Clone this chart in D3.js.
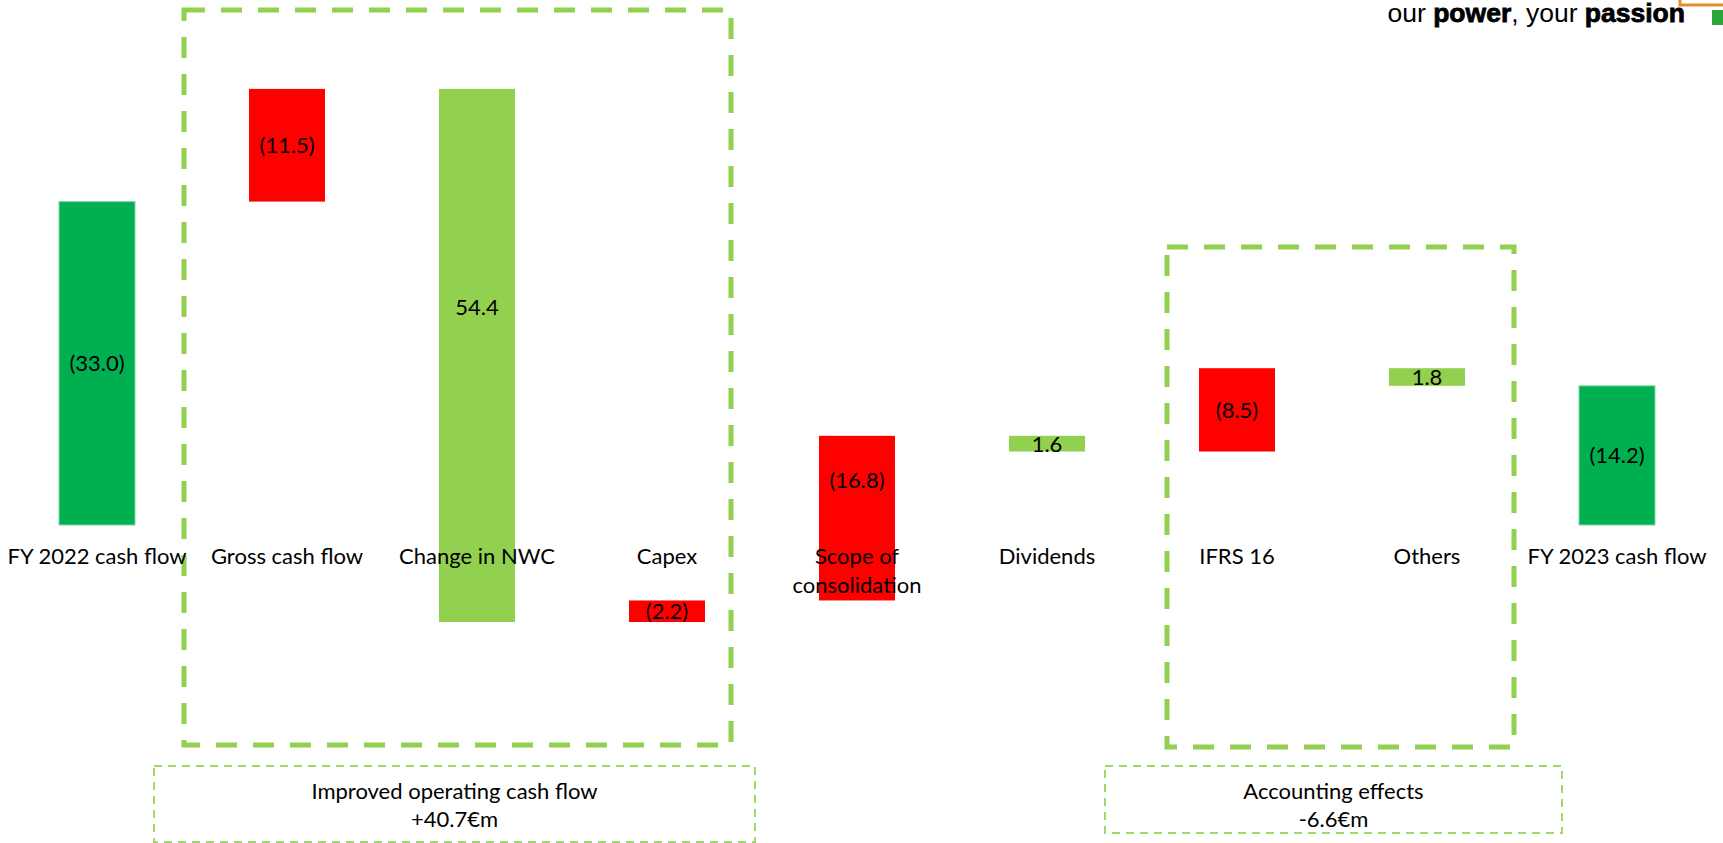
<!DOCTYPE html>
<html><head><meta charset="utf-8">
<script src="https://cdn.jsdelivr.net/npm/d3@7/dist/d3.min.js"></script>
<style>body{margin:0;background:#fff;overflow:hidden} svg{display:block;}</style>
</head><body><svg id="c" width="1723" height="843"></svg>
<script>
// ---- data ----
const categories = ["FY 2022 cash flow","Gross cash flow","Change in NWC","Capex","Scope of consolidation","Dividends","IFRS 16","Others","FY 2023 cash flow"];
const values = [-33.0,-11.5,54.4,-2.2,-16.8,1.6,-8.5,1.8,-14.2];
const kinds = ["total","delta","delta","delta","delta","delta","delta","delta","total"];
const valueLabels = ["(33.0)","(11.5)","54.4","(2.2)","(16.8)","1.6","(8.5)","1.8","(14.2)"];
const groupNames = ["Improved operating cash flow","Accounting effects"];
const groupTotals = ["+40.7€m","-6.6€m"];
const groupFrom = [1,6];
const groupTo = [3,7];

// ---- layout ----
const W = 1723, H = 843;
const FONT = "Lato, 'Open Sans', sans-serif";
const FS = 22;
const C_TOTAL = "#00B050", C_NEG = "#FF0000", C_POS = "#92D050";

const svg = d3.select("#c");
const x = d3.scaleBand().domain(categories).range([2, 1712]).paddingInner(0.6).paddingOuter(0.3);
const y = d3.scaleLinear().domain([0, 50]).range([525, 35]);

// waterfall levels (net cash outflow stacked upward)
let level = 0;
const bars = categories.map((c, i) => {
  let a, b;
  if (kinds[i] === "total") { a = 0; b = -values[i]; level = b; }
  else { a = level; b = level - values[i]; level = b; }
  const lo = Math.min(a, b), hi = Math.max(a, b);
  const color = kinds[i] === "total" ? C_TOTAL : (values[i] < 0 ? C_NEG : C_POS);
  const lblMid = hi > 0 ? (Math.max(lo, 0) + hi) / 2 : (lo + hi) / 2;
  return {c, i, lo, hi, color, lblMid, label: valueLabels[i]};
});

// group dashed boxes (thick)
const gBoxes = [
  {x0: x(categories[groupFrom[0]]) - 65, x1: x(categories[groupTo[0]]) + x.bandwidth() + 26, y0: 10, y1: 745},
  {x0: x(categories[groupFrom[1]]) - 32, x1: x(categories[groupTo[1]]) + x.bandwidth() + 49, y0: 247, y1: 747}
];
svg.selectAll("rect.gbox").data(gBoxes).join("rect").attr("class","gbox")
  .attr("x", d => d.x0).attr("y", d => d.y0)
  .attr("width", d => d.x1 - d.x0).attr("height", d => d.y1 - d.y0)
  .attr("fill","none").attr("stroke", C_POS).attr("stroke-width", 5)
  .attr("stroke-dasharray","21 16");

// bars
svg.selectAll("rect.bar").data(bars).join("rect").attr("class","bar")
  .attr("x", d => x(d.c)).attr("width", x.bandwidth())
  .attr("y", d => y(d.hi)).attr("height", d => y(d.lo) - y(d.hi))
  .attr("fill", d => d.color)
  .attr("stroke", d => kinds[d.i] === "total" ? "#7fd8a4" : "none").attr("stroke-width", 1);

// category labels (wrapped)
const catG = svg.append("g");
bars.forEach(d => {
  const t = catG.append("text").attr("x", x(d.c) + x.bandwidth()/2).attr("y", 564)
    .attr("text-anchor","middle").attr("font-family", FONT).attr("font-size", FS).attr("fill","#000");
  const words = d.c.split(" ");
  let line = [];
  let ts = t.append("tspan").attr("x", x(d.c) + x.bandwidth()/2).attr("dy", 0);
  words.forEach(w => {
    line.push(w);
    ts.text(line.join(" "));
    if (ts.node().getComputedTextLength() > 186 && line.length > 1) {
      line.pop(); ts.text(line.join(" "));
      line = [w];
      ts = t.append("tspan").attr("x", x(d.c) + x.bandwidth()/2).attr("dy", 29).text(w);
    }
  });
});

// value labels
svg.selectAll("text.val").data(bars).join("text").attr("class","val")
  .attr("x", d => x(d.c) + x.bandwidth()/2).attr("y", d => y(d.lblMid))
  .attr("dy","0.36em").attr("text-anchor","middle")
  .attr("font-family", FONT).attr("font-size", FS).attr("fill","#000")
  .text(d => d.label);

// summary boxes (thin dashed)
const sBoxes = [
  {x0: 154, x1: 755, y0: 766, y1: 842},
  {x0: 1105, x1: 1562, y0: 766, y1: 833}
];
sBoxes.forEach((b, k) => {
  svg.append("rect").attr("x", b.x0).attr("y", b.y0).attr("width", b.x1 - b.x0).attr("height", b.y1 - b.y0)
    .attr("fill","none").attr("stroke", "#9fd86a").attr("stroke-width", 2).attr("stroke-dasharray","8 6");
  const cx = (b.x0 + b.x1) / 2;
  svg.append("text").attr("x", cx).attr("y", 799).attr("text-anchor","middle")
    .attr("font-family", FONT).attr("font-size", FS).text(groupNames[k]);
  svg.append("text").attr("x", cx).attr("y", 827).attr("text-anchor","middle")
    .attr("font-family", FONT).attr("font-size", FS).text(groupTotals[k]);
});

// brand tagline
const tag = svg.append("text").attr("x", 1685).attr("y", 22).attr("text-anchor","end")
  .attr("font-family","'Liberation Sans', Arial, sans-serif").attr("font-size", 26.5)
  .attr("fill","#000");
tag.append("tspan").text("our ");
tag.append("tspan").attr("font-weight","bold").attr("stroke","#000").attr("stroke-width",0.8).text("power");
tag.append("tspan").text(", your ");
tag.append("tspan").attr("font-weight","bold").attr("stroke","#000").attr("stroke-width",0.8).text("passion");
svg.append("path").attr("d","M1680,0 V5 H1723").attr("fill","none").attr("stroke","#E0902F").attr("stroke-width",3);
svg.append("rect").attr("x",1712).attr("y",10).attr("width",11).attr("height",15).attr("fill","#2AA63C");
</script>
</body></html>
